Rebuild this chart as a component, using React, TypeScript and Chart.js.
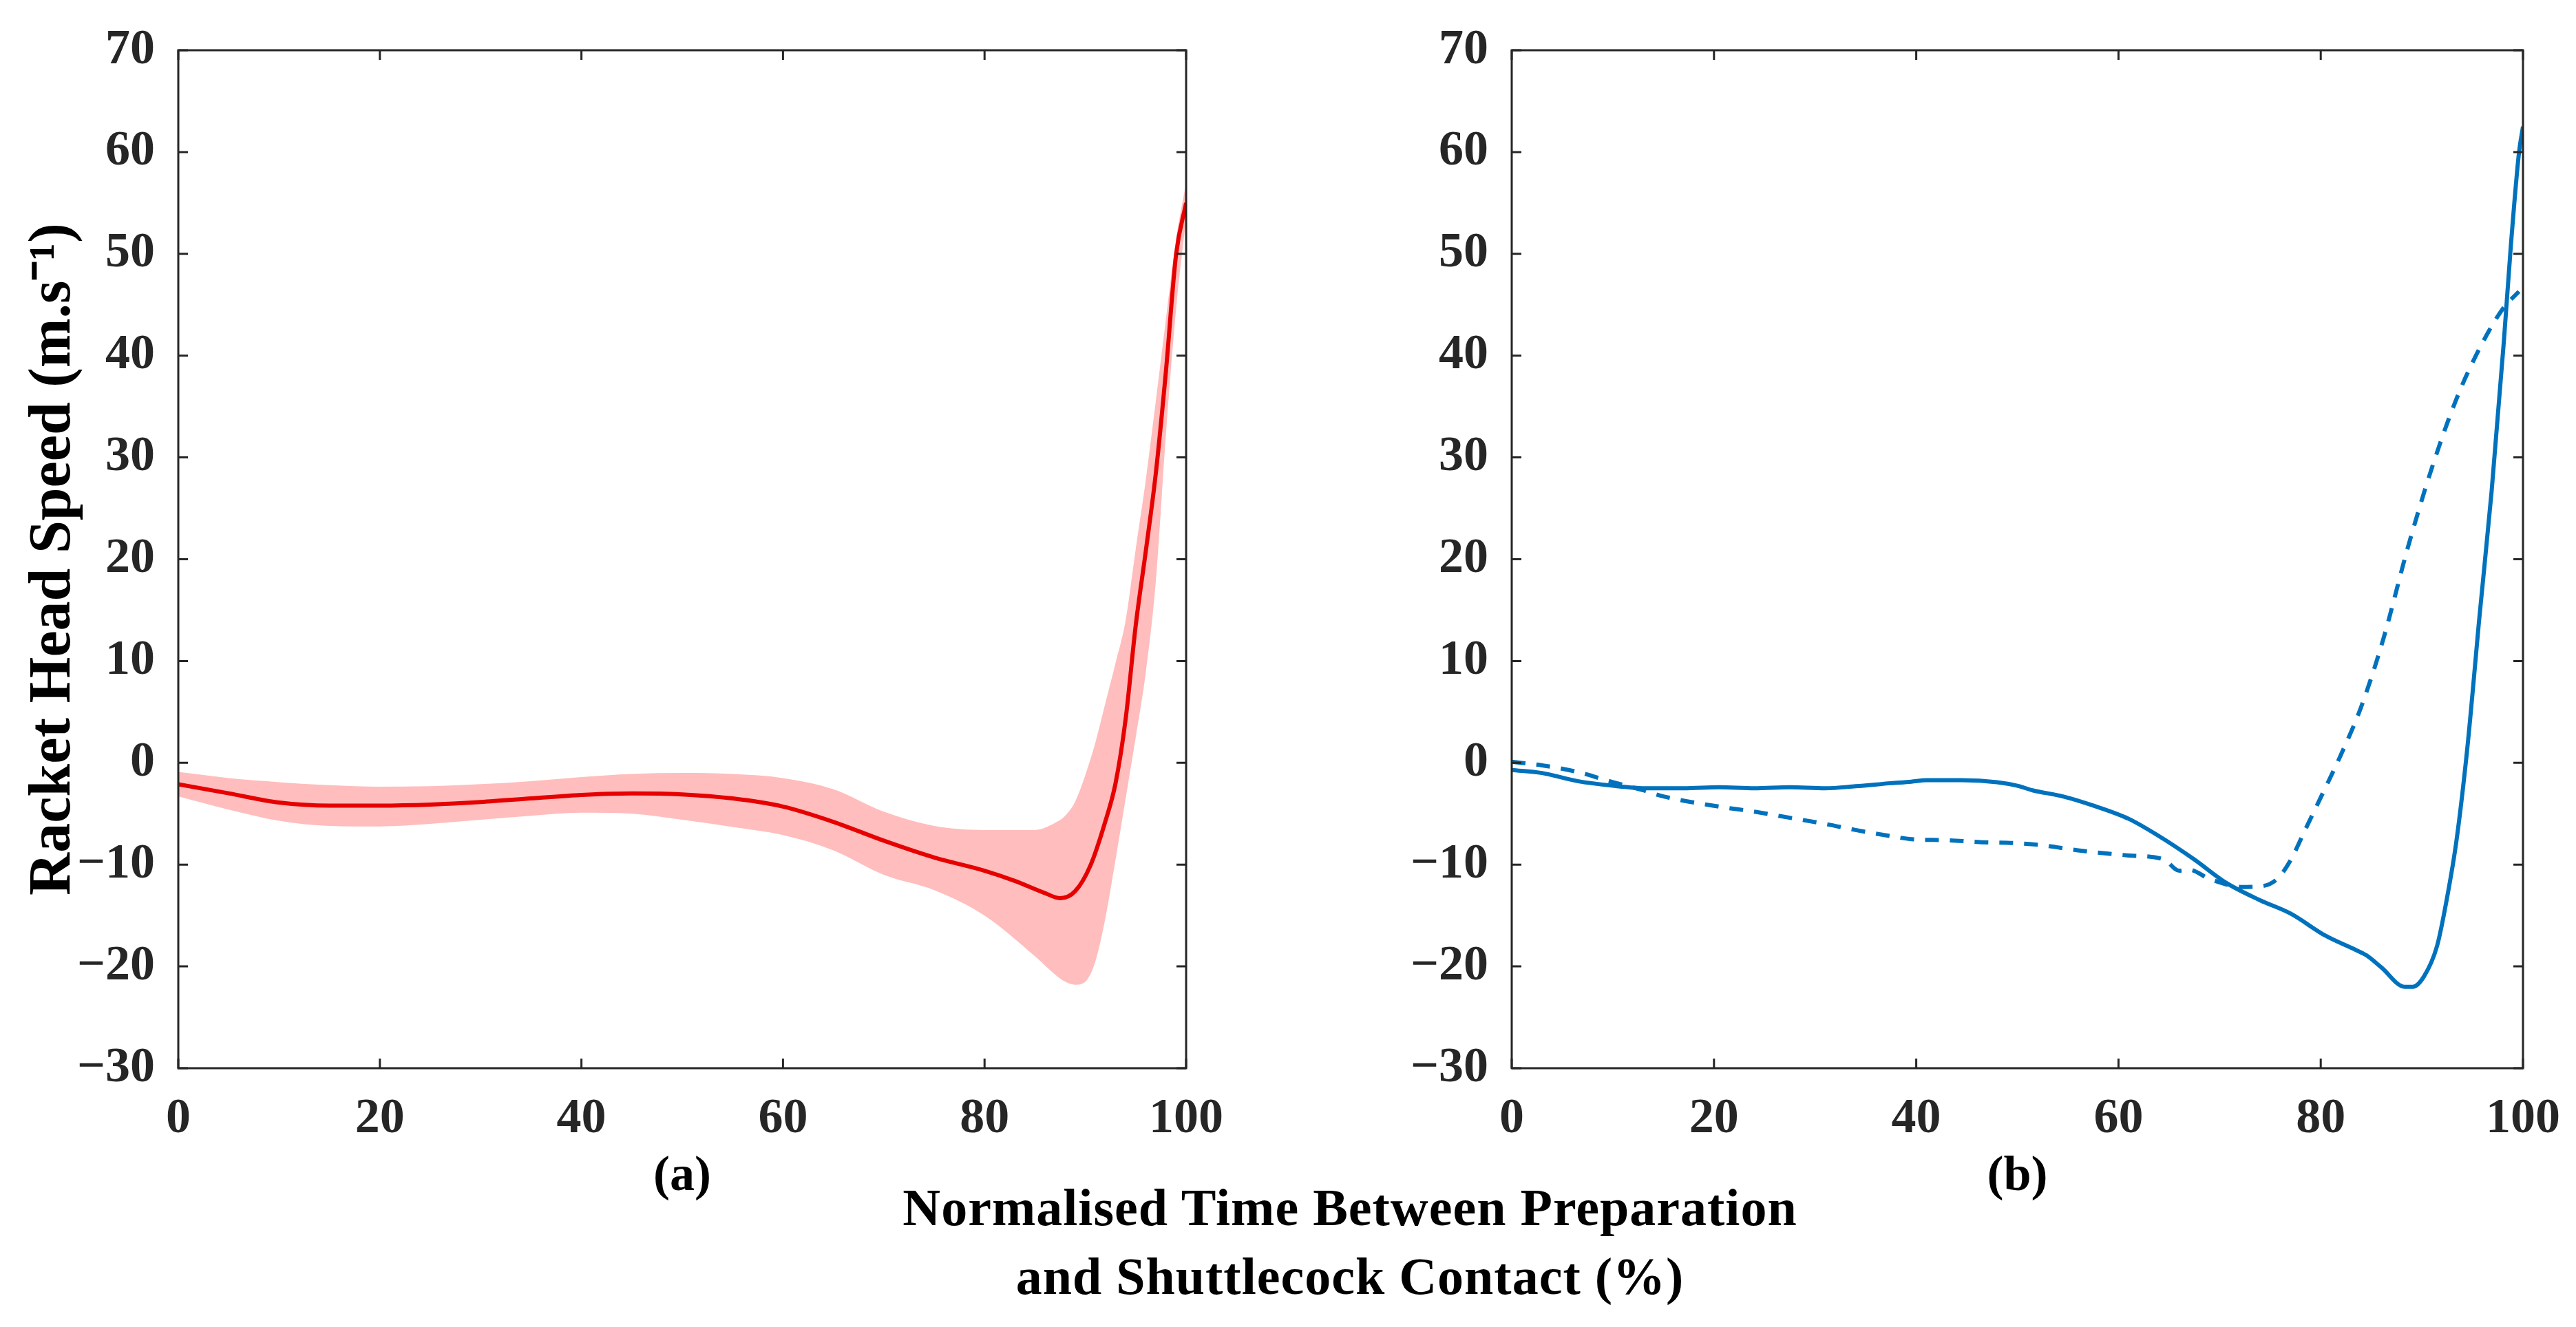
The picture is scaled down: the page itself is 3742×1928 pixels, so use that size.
import { useEffect, useRef } from "react"
import Chart from "chart.js/auto"

// (a) mean racket head speed and its SD band
const leftMeanX = [0, 5, 10, 15, 20, 25, 30, 35, 40, 45, 50, 55, 60, 65, 70, 75, 80, 83, 86, 87.5, 89, 90.5, 92, 93, 94, 95, 96, 97, 98, 99, 100]
const leftMeanY = [-2.1, -3.0, -3.9, -4.2, -4.2, -4.1, -3.85, -3.5, -3.15, -3.0, -3.1, -3.5, -4.3, -5.8, -7.65, -9.3, -10.6, -11.6, -12.8, -13.3, -12.6, -10.1, -5.7, -2.0, 4.3, 13.5, 20.8, 28.5, 38.5, 49.9, 55.0]

const leftBandX = [0, 5, 10, 15, 20, 25, 30, 35, 40, 45, 50, 55, 60, 65, 70, 75, 80, 85, 87, 88, 89, 90, 91, 92, 93, 94, 95, 96, 97, 98, 99, 100]
const leftUpperY = [-0.9, -1.5, -1.9, -2.2, -2.35, -2.3, -2.1, -1.8, -1.4, -1.1, -1.0, -1.1, -1.5, -2.6, -4.8, -6.2, -6.6, -6.6, -5.9, -5.2, -3.8, -1.2, 2.0, 5.9, 9.8, 14.0, 21.0, 27.8, 35.6, 43.6, 51.4, 57.0]
const leftLowerY = [-3.3, -4.6, -5.7, -6.2, -6.25, -6.0, -5.6, -5.2, -4.9, -5.0, -5.6, -6.3, -7.1, -8.6, -11.0, -12.5, -15.0, -19.0, -20.8, -21.5, -21.8, -21.5, -19.5, -15.2, -9.5, -3.5, 2.5, 8.9, 17.9, 32.3, 44.5, 53.5]

// (b) two single trials, solid and dashed
const rightSolidX = [0, 3, 6.5, 10, 13.5, 17, 20.5, 24, 27.5, 31, 34, 37.5, 39.5, 41, 44.5, 48, 50, 51.5, 54.5, 57.5, 61, 64, 67.5, 70.5, 74, 77, 80.5, 83.5, 84.5, 86, 88.3, 89.1, 90.2, 91.5, 92.5, 93.4, 94.5, 95.7, 96.9, 98.1, 98.8, 99.6, 100]
const rightSolidY = [-0.7, -1.0, -1.8, -2.25, -2.5, -2.5, -2.4, -2.5, -2.4, -2.5, -2.3, -2.0, -1.85, -1.7, -1.7, -1.9, -2.25, -2.7, -3.3, -4.2, -5.5, -7.2, -9.5, -11.7, -13.5, -14.8, -17.0, -18.4, -18.9, -20.1, -22.0, -22.0, -21.0, -18.0, -13.2, -7.8, 1.5, 14.4, 26.7, 41.3, 50.8, 59.9, 62.5]

const rightDashedX = [0, 3, 6.5, 10, 13, 15, 20.5, 24, 27.5, 31, 34, 37.5, 39.5, 43, 46.5, 50, 52.5, 56, 61, 64.5, 66, 67, 69, 72.3, 74.3, 75.7, 77, 78.5, 80, 82, 84, 86.2, 88.6, 91, 93.4, 95.7, 98, 99.6]
const rightDashedY = [0.1, -0.25, -0.9, -1.9, -2.7, -3.3, -4.3, -4.8, -5.4, -6.0, -6.6, -7.2, -7.5, -7.6, -7.8, -7.9, -8.1, -8.6, -9.1, -9.5, -10.6, -10.5, -11.4, -12.2, -12.1, -11.4, -9.6, -6.5, -3.4, 0.8, 5.5, 12.2, 21.1, 29.0, 35.7, 40.7, 44.6, 46.3]

const xTicks = { min: 0, max: 100, step: 20 }
const yTicks = { min: -30, max: 70, step: 10 }

const RED = "#e60000"
const PINK = "rgb(255, 189, 189)"
const BLUE = "#0072bd"
const AXIS = "#262626"
const SERIF = '"Liberation Serif", "Times New Roman", serif'
const TICK_LEN = 14

const zip = (xs: number[], ys: number[]) => xs.map((x, i) => ({ x, y: ys[i] }))

// matlab-like box with inward ticks on all four sides
const boxPlugin = {
  id: "matlabBox",
  afterDatasetsDraw(chart: any) {
    const { ctx, chartArea: a, scales } = chart
    ctx.save()
    ctx.strokeStyle = AXIS
    ctx.lineWidth = 3
    ctx.strokeRect(a.left, a.top, a.right - a.left, a.bottom - a.top)
    ctx.beginPath()
    scales.x.ticks.forEach((t: any) => {
      const px = scales.x.getPixelForValue(t.value)
      ctx.moveTo(px, a.bottom)
      ctx.lineTo(px, a.bottom - TICK_LEN)
      ctx.moveTo(px, a.top)
      ctx.lineTo(px, a.top + TICK_LEN)
    })
    scales.y.ticks.forEach((t: any) => {
      const py = scales.y.getPixelForValue(t.value)
      ctx.moveTo(a.left, py)
      ctx.lineTo(a.left + TICK_LEN, py)
      ctx.moveTo(a.right, py)
      ctx.lineTo(a.right - TICK_LEN, py)
    })
    ctx.stroke()
    ctx.restore()
  },
}

interface PanelProps {
  datasets: any[]
  label: string
  yTitle?: string
  left: number
  width: number
  yAxisWidth: number
}

const CANVAS_H = 1800

function Panel({ datasets, label, yTitle, left, width, yAxisWidth }: PanelProps) {
  const canvasRef = useRef<HTMLCanvasElement>(null)

  useEffect(() => {
    if (!canvasRef.current) return
    const tickFont = { family: SERIF, size: 72, weight: "bold" as const }
    const chart = new Chart(canvasRef.current, {
      type: "line",
      data: { datasets },
      plugins: [boxPlugin],
      options: {
        responsive: false,
        animation: false,
        devicePixelRatio: 1,
        layout: { padding: { top: 73, right: 73, bottom: 0, left: 0 } },
        plugins: { legend: { display: false }, tooltip: { enabled: false } },
        elements: { point: { radius: 0 } },
        scales: {
          x: {
            type: "linear",
            min: xTicks.min,
            max: xTicks.max,
            grid: { display: false },
            border: { display: false },
            ticks: { stepSize: xTicks.step, padding: 23, font: tickFont, color: AXIS, maxRotation: 0 },
            title: { display: true, text: label, font: tickFont, color: "#000", padding: { top: 0, bottom: 46 } },
            afterFit: (s: any) => {
              s.height = CANVAS_H - 1552
            },
          },
          y: {
            type: "linear",
            min: yTicks.min,
            max: yTicks.max,
            grid: { display: false },
            border: { display: false },
            ticks: {
              stepSize: yTicks.step,
              padding: 26,
              font: tickFont,
              color: AXIS,
              callback: (v: any) => (v < 0 ? "\u2212" + Math.abs(v) : String(v)),
            },
            title: {
              display: !!yTitle,
              text: yTitle || "",
              font: { family: SERIF, size: 86, weight: "bold" },
              color: "#000",
              padding: { top: 27, bottom: 0 },
            },
            afterFit: (s: any) => {
              s.width = yAxisWidth
            },
          },
        },
      },
    })
    return () => chart.destroy()
  }, [datasets, label, yTitle, yAxisWidth])

  return (
    <canvas
      ref={canvasRef}
      width={width}
      height={CANVAS_H}
      style={{ position: "absolute", left, top: 0, width, height: CANVAS_H }}
    />
  )
}

const leftDatasets = [
  {
    label: "Mean",
    data: zip(leftMeanX, leftMeanY),
    borderColor: RED,
    borderWidth: 6,
    fill: false,
    cubicInterpolationMode: "monotone",
  },
  {
    label: "Mean + SD",
    data: zip(leftBandX, leftUpperY),
    borderColor: "transparent",
    borderWidth: 0,
    backgroundColor: PINK,
    fill: "+1",
    cubicInterpolationMode: "monotone",
  },
  {
    label: "Mean - SD",
    data: zip(leftBandX, leftLowerY),
    borderColor: "transparent",
    borderWidth: 0,
    fill: false,
    cubicInterpolationMode: "monotone",
  },
]

const rightDatasets = [
  {
    label: "Trial 1",
    data: zip(rightSolidX, rightSolidY),
    borderColor: BLUE,
    borderWidth: 6,
    fill: false,
    cubicInterpolationMode: "monotone",
  },
  {
    label: "Trial 2",
    data: zip(rightDashedX, rightDashedY),
    borderColor: BLUE,
    borderWidth: 6,
    borderDash: [20, 16],
    fill: false,
    cubicInterpolationMode: "monotone",
  },
]

export default function App() {
  useEffect(() => {
    document.body.style.margin = "0"
  }, [])

  return (
    <div style={{ position: "relative", width: 3742, height: 1928, background: "#fff", overflow: "hidden" }}>
      <Panel datasets={leftDatasets} label="(a)" yTitle="Racket Head Speed (m.s⁻¹)" left={0} width={1800} yAxisWidth={259} />
      <Panel datasets={rightDatasets} label="(b)" left={1800} width={1942} yAxisWidth={396} />
      <div
        style={{
          position: "absolute",
          left: 1961 - 1100,
          width: 2200,
          top: 1704,
          textAlign: "center",
          fontFamily: SERIF,
          fontWeight: "bold",
          fontSize: 76,
          letterSpacing: 1,
          lineHeight: "100px",
          color: "#000",
        }}
      >
        Normalised Time Between Preparation
        <br />
        and Shuttlecock Contact (%)
      </div>
    </div>
  )
}
